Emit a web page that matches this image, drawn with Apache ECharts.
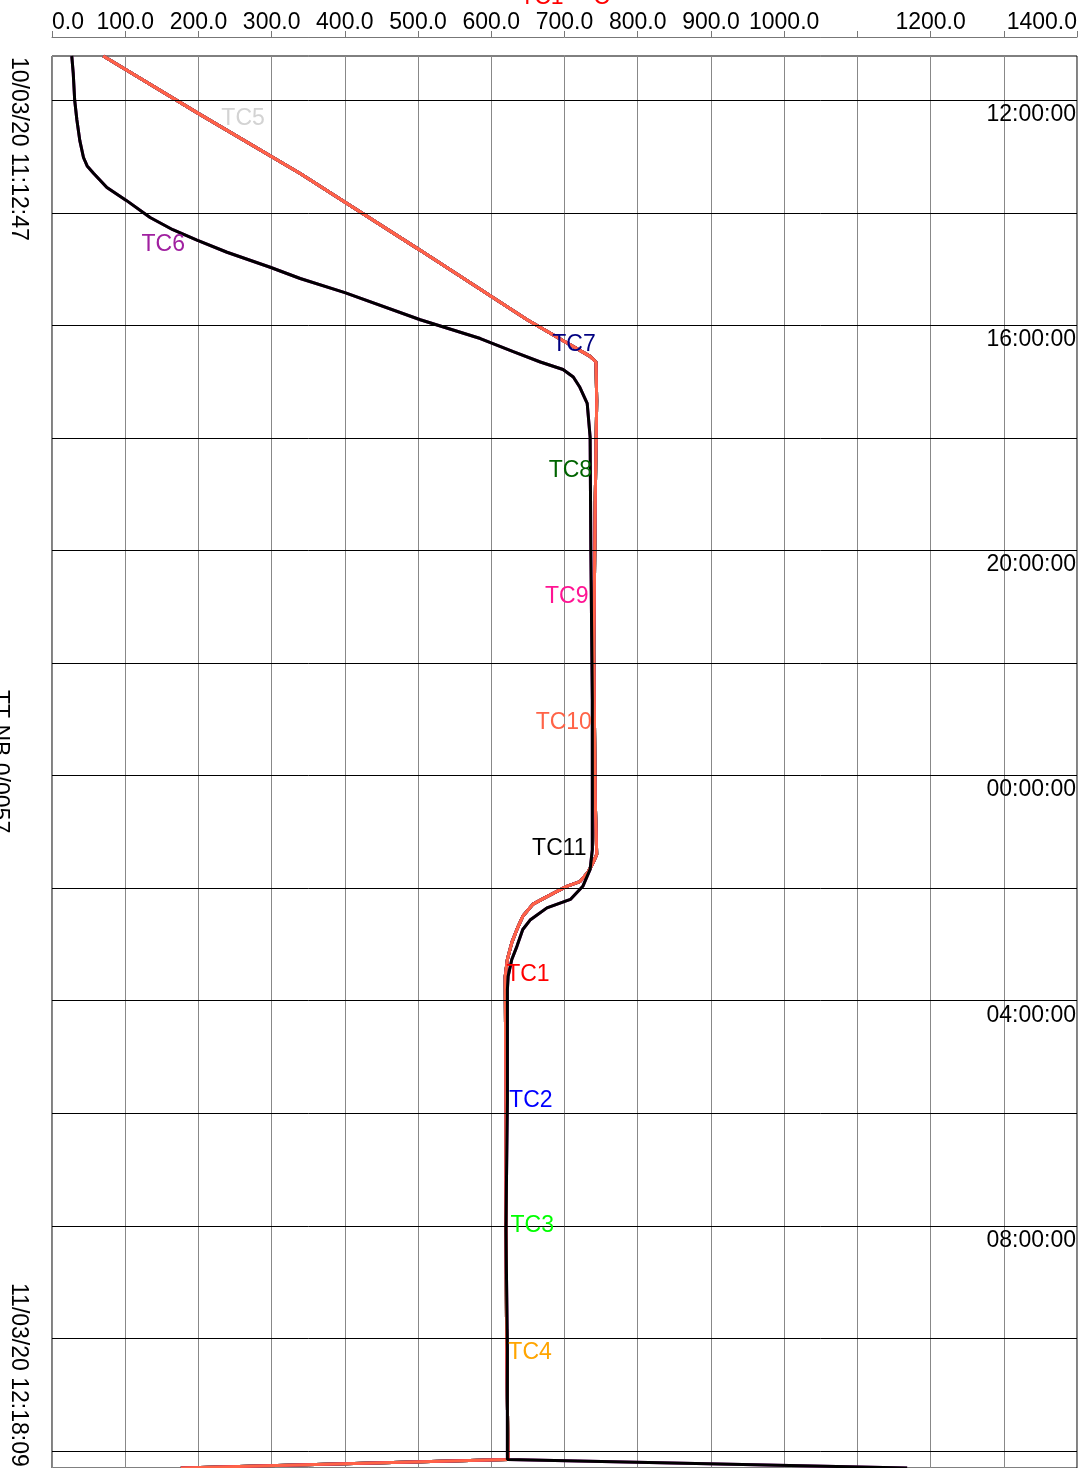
<!DOCTYPE html>
<html>
<head>
<meta charset="utf-8">
<title>TC1 - C</title>
<script src="https://cdn.jsdelivr.net/npm/echarts@6/dist/echarts.min.js"></script>
<style>
    html, body { margin: 0; padding: 0; background: #fff; }
    #chart { width: 1086px; height: 1468px; }
</style>
</head>
<body>
<div id="chart"></div>
<script>
// thermocouples, in drawing order
var tcNames  = ['TC1', 'TC2', 'TC3', 'TC4', 'TC5', 'TC6', 'TC7', 'TC8', 'TC9', 'TC10', 'TC11'];
var tcColors = ['#ff0000', '#0000ff', '#00ff00', '#ffa500', '#d3d3d3', '#a020a0', '#000080', '#006400', '#ff1493', '#ff6347', '#000000'];
// 'fast' follows the furnace ramp, 'slow' lags behind it
var tcGroup  = ['fast', 'fast', 'fast', 'fast', 'fast', 'slow', 'fast', 'fast', 'fast', 'fast', 'slow'];

var startTime = '2020-03-10 11:12:47';
var endTime   = '2020-03-11 12:18:09';

// fast group readings
var fastTimes = ['2020-03-10 11:12:47', '2020-03-10 12:15', '2020-03-10 13:18', '2020-03-10 14:40', '2020-03-10 15:54',
    '2020-03-10 16:33', '2020-03-10 16:39', '2020-03-10 17:20', '2020-03-10 19:06', '2020-03-10 21:46',
    '2020-03-11 00:26', '2020-03-11 01:24', '2020-03-11 01:33', '2020-03-11 01:43', '2020-03-11 01:53',
    '2020-03-11 01:58', '2020-03-11 02:09', '2020-03-11 02:17', '2020-03-11 02:30', '2020-03-11 02:44',
    '2020-03-11 02:58', '2020-03-11 03:16', '2020-03-11 03:34', '2020-03-11 05:45', '2020-03-11 08:04',
    '2020-03-11 10:11', '2020-03-11 12:09', '2020-03-11 12:18:09'];
var fastTemps = [70, 202, 339, 503, 649,
    735, 743, 744, 742, 740,
    742, 744, 739, 732, 721,
    703, 676, 657, 643, 635,
    628, 622, 619, 620, 620,
    621, 623, 176];

// slow group readings
var slowTimes = ['2020-03-10 11:12:47', '2020-03-10 11:31', '2020-03-10 12:00', '2020-03-10 12:21', '2020-03-10 12:43',
    '2020-03-10 13:01', '2020-03-10 13:10', '2020-03-10 13:18', '2020-03-10 13:33', '2020-03-10 13:47', '2020-03-10 14:05',
    '2020-03-10 14:18', '2020-03-10 14:29', '2020-03-10 14:42', '2020-03-10 14:58', '2020-03-10 15:10',
    '2020-03-10 15:25', '2020-03-10 15:54', '2020-03-10 16:14', '2020-03-10 16:28', '2020-03-10 16:39',
    '2020-03-10 16:47', '2020-03-10 16:55', '2020-03-10 17:06', '2020-03-10 17:23', '2020-03-10 17:59',
    '2020-03-10 20:00', '2020-03-10 22:39', '2020-03-11 01:19', '2020-03-11 01:40', '2020-03-11 01:58',
    '2020-03-11 02:12', '2020-03-11 02:21', '2020-03-11 02:34', '2020-03-11 02:44', '2020-03-11 03:02',
    '2020-03-11 03:16', '2020-03-11 03:34', '2020-03-11 03:48', '2020-03-11 05:45', '2020-03-11 08:04',
    '2020-03-11 10:11', '2020-03-11 12:09', '2020-03-11 12:18:09'];
var slowTemps = [27, 29, 31, 34, 38,
    43, 48, 57, 75, 102, 134,
    165, 198, 239, 298, 339,
    400, 503, 585, 630, 667,
    698, 712, 721, 731, 735,
    736, 738, 738, 735, 725,
    708, 676, 653, 643, 635,
    628, 623, 622, 622, 620,
    622, 622, 1168];

// where each series name is written
var labelTimes = ['2020-03-11 03:32', '2020-03-11 05:46', '2020-03-11 08:00', '2020-03-11 10:15', '2020-03-10 12:20',
    '2020-03-10 14:34', '2020-03-10 16:21', '2020-03-10 18:35', '2020-03-10 20:49', '2020-03-10 23:04', '2020-03-11 01:18'];
var labelTemps = [650, 654, 656, 653, 261, 152, 713, 708, 703, 699, 693];

// horizontal grid every 2 h, label every 4 h
var gridTimes = ['2020-03-10 12:00', '2020-03-10 14:00', '2020-03-10 16:00', '2020-03-10 18:00', '2020-03-10 20:00',
    '2020-03-10 22:00', '2020-03-11 00:00', '2020-03-11 02:00', '2020-03-11 04:00', '2020-03-11 06:00',
    '2020-03-11 08:00', '2020-03-11 10:00', '2020-03-11 12:00'];
var gridLabelled = [true, false, true, false, true, false, true, false, true, false, true, false, false];

var FONT = 'Liberation Sans, Arial, sans-serif';

function toMs(s) {
    var p = s.split(' ');
    var t = p[1].split(':');
    while (t.length < 3) t.push('00');
    return new Date(p[0] + 'T' + t.join(':')).getTime();
}
function pad(n) { return (n < 10 ? '0' : '') + n; }

var seriesList = [];

// grid lines + time labels (under the data)
seriesList.push({
    type: 'line',
    name: 'grid',
    data: [],
    z: 1,
    silent: true,
    markLine: {
        silent: true,
        symbol: ['none', 'none'],
        lineStyle: { color: '#000', width: 1, type: 'solid' },
        label: {
            position: 'insideEndBottom',
            distance: [1, 3],
            color: '#000',
            fontSize: 23,
            fontFamily: FONT,
            formatter: function (p) {
                var d = new Date(p.value);
                return pad(d.getHours()) + ':' + pad(d.getMinutes()) + ':' + pad(d.getSeconds());
            }
        },
        data: gridTimes.map(function (t, i) {
            return { yAxis: toMs(t), label: { show: gridLabelled[i] } };
        })
    }
});

for (var i = 0; i < tcNames.length; i++) {
    var times = tcGroup[i] == 'fast' ? fastTimes : slowTimes;
    var temps = tcGroup[i] == 'fast' ? fastTemps : slowTemps;
    var pts = [];
    for (var j = 0; j < times.length; j++) {
        pts.push([temps[j], toMs(times[j])]);
    }
    seriesList.push({
        type: 'line',
        name: tcNames[i],
        data: pts,
        showSymbol: false,
        symbol: 'none',
        z: 2,
        lineStyle: { color: tcColors[i], width: 3 },
        itemStyle: { color: tcColors[i] },
        markPoint: {
            symbol: 'circle',
            symbolSize: 0,
            label: {
                show: true,
                position: 'inside',
                formatter: tcNames[i],
                color: tcColors[i],
                fontSize: 23,
                fontFamily: FONT
            },
            data: [{ coord: [labelTemps[i], toMs(labelTimes[i])] }]
        }
    });
}

var myChart = echarts.init(document.getElementById('chart'));
var option = {
    animation: false,
    backgroundColor: '#fff',
    grid: {
        left: 52, right: 9, top: 56, bottom: 0,
        show: true, borderColor: '#000', borderWidth: 1
    },
    xAxis: {
        type: 'value',
        position: 'top',
        min: 0,
        max: 1400,
        interval: 100,
        offset: 19,
        axisLine: { show: true, lineStyle: { color: '#777', width: 1 } },
        axisTick: { show: true, length: 6, lineStyle: { color: '#777' } },
        axisLabel: {
            interval: 0,
            margin: 3,
            color: '#000',
            fontSize: 23,
            fontFamily: FONT,
            alignMinLabel: 'left',
            alignMaxLabel: 'right',
            formatter: function (v) {
                if (v == 1100 || v == 1300) return '';
                return v.toFixed(1);
            }
        },
        splitLine: { show: true, lineStyle: { color: '#888', width: 1 } }
    },
    yAxis: {
        type: 'time',
        inverse: true,
        min: toMs(startTime),
        max: toMs(endTime),
        axisLine: { show: false },
        axisTick: { show: false },
        axisLabel: { show: false },
        splitLine: { show: false }
    },
    graphic: [
        {
            type: 'text', x: 565, y: -14,
            style: { text: 'TC1 - °C', fill: '#ff0000', font: '23px ' + FONT, textAlign: 'center', textVerticalAlign: 'top' }
        },
        {
            type: 'text', x: 30, y: 57, rotation: -Math.PI / 2,
            style: { text: '10/03/20 11:12:47', fill: '#000', font: '23px ' + FONT, textAlign: 'left', textVerticalAlign: 'top' }
        },
        {
            type: 'text', x: 11, y: 690, rotation: -Math.PI / 2,
            style: { text: 'TT NB 0/0057', fill: '#000', font: '23px ' + FONT, textAlign: 'left', textVerticalAlign: 'top' }
        },
        {
            type: 'text', x: 30, y: 1283, rotation: -Math.PI / 2,
            style: { text: '11/03/20 12:18:09', fill: '#000', font: '23px ' + FONT, textAlign: 'left', textVerticalAlign: 'top' }
        }
    ],
    series: seriesList
};
myChart.setOption(option, true);
window.addEventListener('resize', function () {
    myChart.resize();
});
</script>
</body>
</html>
